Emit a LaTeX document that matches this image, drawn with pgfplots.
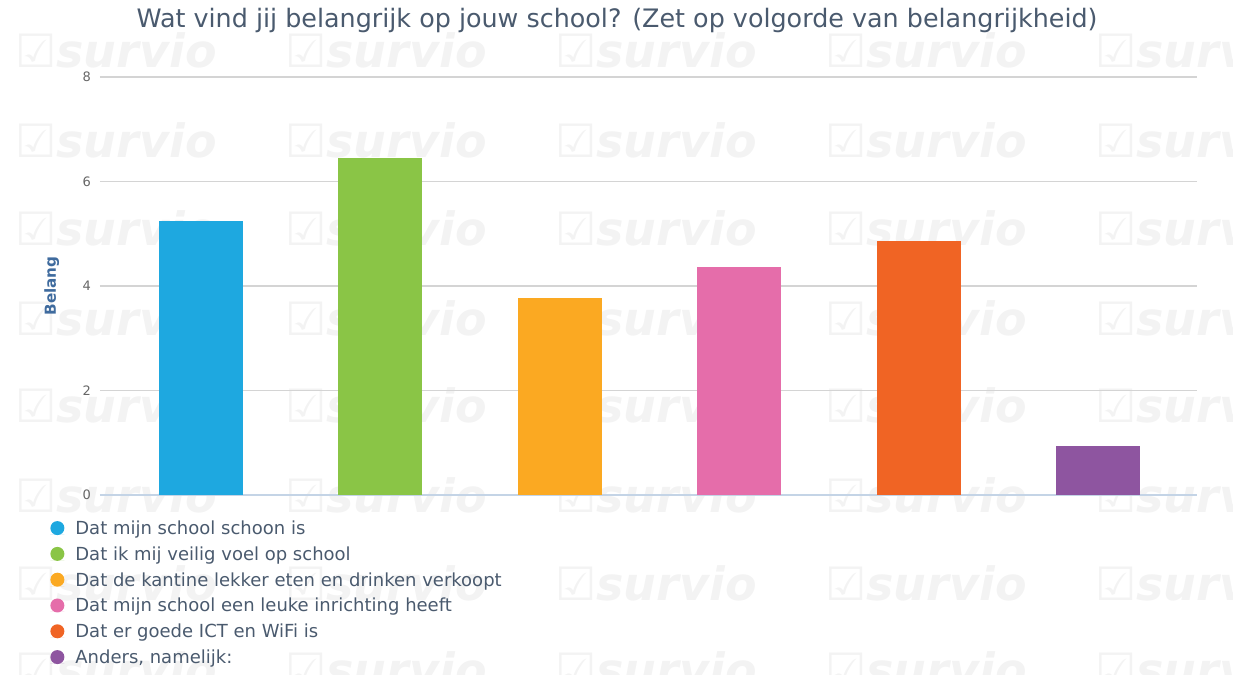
\documentclass[border=0pt]{standalone}
\usepackage{pgfplots}
\pgfplotsset{compat=1.18}
\usepackage{fontspec}
\setmainfont{DejaVu Sans}
\definecolor{cblue}{HTML}{1EA8E0}
\definecolor{cgreen}{HTML}{8AC546}
\definecolor{corange}{HTML}{FBA922}
\definecolor{cpink}{HTML}{E56DAA}
\definecolor{cred}{HTML}{F06424}
\definecolor{cpurple}{HTML}{8E55A0}
\definecolor{gridc}{HTML}{D4D4D4}
\definecolor{xline}{HTML}{C4D4E6}
\definecolor{titlec}{HTML}{4A5A6E}
\definecolor{ylabc}{HTML}{3F6B9E}
\definecolor{tickc}{HTML}{666666}
\definecolor{wmark}{HTML}{F3F3F3}
\begin{document}
\begin{tikzpicture}
\path[use as bounding box] (0,0) rectangle (616.5pt,337.5pt);
\begin{scope}
\clip (0,0) rectangle (616.5pt,337.5pt);
\foreach \yy in {312.5,267.5,223.5,178.5,135,90,46,3}{
  \foreach \xx in {7.5,142.5,277.5,412.5,547.5}{
    \node[anchor=west, text=wmark, font=\fontsize{23}{23}\selectfont\bfseries\itshape, inner sep=0pt] at (\xx pt,\yy pt) {☑survio};
  }
}
\end{scope}
\node[anchor=base, text=titlec, font=\fontsize{12.7}{14}\selectfont] at (308.5pt,323.5pt) {Wat vind jij belangrijk op jouw school? (Zet op volgorde van belangrijkheid)};
\begin{axis}[
  at={(50pt,90pt)}, anchor=south west,
  width=548.5pt, height=209pt, scale only axis,
  xmin=-0.56, xmax=5.55, ymin=0, ymax=8,
  enlargelimits=false,
  ybar, bar width=42pt, bar shift=0pt,
  ytick={0,2,4,6,8}, xtick=\empty,
  ymajorgrids, grid style={draw=gridc, line width=0.6pt},
  separate axis lines,
  axis x line*=bottom, axis y line*=left,
  x axis line style={draw=xline, line width=0.8pt, -},
  y axis line style={draw=none},
  major tick length=0pt,
  /pgf/number format/assume math mode=true,
  yticklabel style={font=\fontsize{6.5}{7}\selectfont, text=tickc, xshift=-1pt},
  ylabel={Belang},
  ylabel style={at={(axis description cs:-0.044,0.5)}, anchor=center, font=\fontsize{7.6}{8}\selectfont\bfseries, text=ylabc},
  legend style={at={(axis description cs:-0.0456,-0.060)}, anchor=north west, draw=none, fill=none,
    font=\fontsize{9}{10}\selectfont, text=titlec, legend columns=1,
    nodes={inner sep=0pt, text height=7pt, text depth=2pt, anchor=base west},
    row sep=3.9pt, column sep=5.5pt, inner sep=0pt, legend cell align=left},
  legend image code/.code={\path (0pt,0pt) -- (7pt,0pt); \fill[#1, draw=none] (3.5pt,3.2pt) circle (3.5pt);},
]
\addplot[fill=cblue, draw=none] coordinates {(0,5.24)};
\addplot[fill=cgreen, draw=none] coordinates {(1,6.45)};
\addplot[fill=corange, draw=none] coordinates {(2,3.77)};
\addplot[fill=cpink, draw=none] coordinates {(3,4.36)};
\addplot[fill=cred, draw=none] coordinates {(4,4.86)};
\addplot[fill=cpurple, draw=none] coordinates {(5,0.94)};
\legend{Dat mijn school schoon is, Dat ik mij veilig voel op school, Dat de kantine lekker eten en drinken verkoopt, Dat mijn school een leuke inrichting heeft, Dat er goede ICT en WiFi is, {Anders, namelijk:}}
\end{axis}
\end{tikzpicture}
\end{document}
